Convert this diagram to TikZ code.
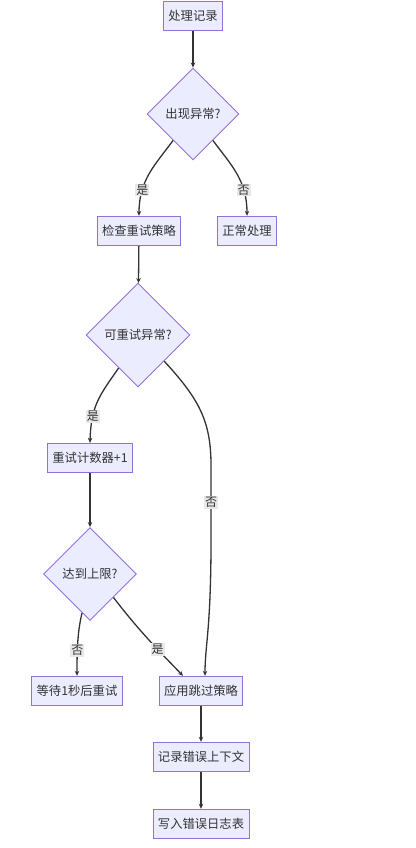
\documentclass[tikz,border=0pt]{standalone}
\usepackage{fontspec}
\setmainfont{Noto Sans CJK SC}
\usetikzlibrary{shapes.geometric,arrows.meta,calc}
\definecolor{boxfill}{HTML}{ECECFF}
\definecolor{boxline}{HTML}{9370DB}
\definecolor{edgecol}{HTML}{333333}
\definecolor{lblfill}{HTML}{E8E8E8}
\begin{document}
\begin{tikzpicture}[x=1pt, y=-1pt,
  every node/.style={font=\fontsize{12.3}{14}\selectfont, text=edgecol},
  procbox/.style={draw=boxline, fill=boxfill, line width=0.9pt, rectangle, inner xsep=5pt, minimum height=29.5pt},
  decide/.style={draw=boxline, fill=boxfill, line width=0.9pt, diamond, aspect=1, inner sep=0pt, minimum width=#1, minimum height=#1},
  flow/.style={draw=edgecol, line width=1.3pt, -{Stealth[length=5pt,width=4.5pt]}},
  lbl/.style={fill=lblfill, inner sep=1pt, font=\fontsize{12}{13}\selectfont}]
\useasboundingbox (0,0) rectangle (415,848);
% nodes
\node[procbox] (start) at (193,16) {处理记录};
\node[decide=92pt] (anomaly) at (193,114) {出现异常?};
\node[procbox] (check) at (139,231) {检查重试策略};
\node[procbox] (normal) at (247,231) {正常处理};
\node[decide=104pt] (retryable) at (138,335) {可重试异常?};
\node[procbox] (counter) at (90,458) {重试计数器+1};
\node[decide=93pt] (limit) at (90,574) {达到上限?};
\node[procbox] (wait) at (77,691) {等待1秒后重试};
\node[procbox] (skip) at (201,691) {应用跳过策略};
\node[procbox] (logctx) at (201,757) {记录错误上下文};
\node[procbox] (writelog) at (201,824) {写入错误日志表};
% connectors
\draw[flow] (start) -- (anomaly);
\draw[flow] ($(anomaly.south)!0.43!(anomaly.west)$) .. controls (155,165) and (139,180) .. node[lbl, pos=0.72]{是} (check.north);
\draw[flow] ($(anomaly.south)!0.43!(anomaly.east)$) .. controls (231,165) and (247,180) .. node[lbl, pos=0.72]{否} (normal.north);
\draw[flow] (check) -- (retryable);
\draw[flow] ($(retryable.south)!0.37!(retryable.west)$) .. controls (100,395) and (91,405) .. node[lbl, pos=0.72]{是} (counter.north);
\draw[flow] (retryable.south east) .. controls (198,398) and (211,420) .. (211,465) -- node[lbl]{否} (211,540) .. controls (211,630) and (205,645) .. ($(skip.north)+(4,0)$);
\draw[flow] (counter) -- (limit);
\draw[flow] ($(limit.south)!0.17!(limit.west)$) .. controls (78,630) and (77,645) .. node[lbl, pos=0.68]{否} (wait.north);
\draw[flow] (limit.south east) .. controls (140,632) and (160,652) .. node[lbl, pos=0.62]{是} ($(skip.north)+(-18,0)$);
\draw[flow] (skip) -- (logctx);
\draw[flow] (logctx) -- (writelog);
\end{tikzpicture}
\end{document}
